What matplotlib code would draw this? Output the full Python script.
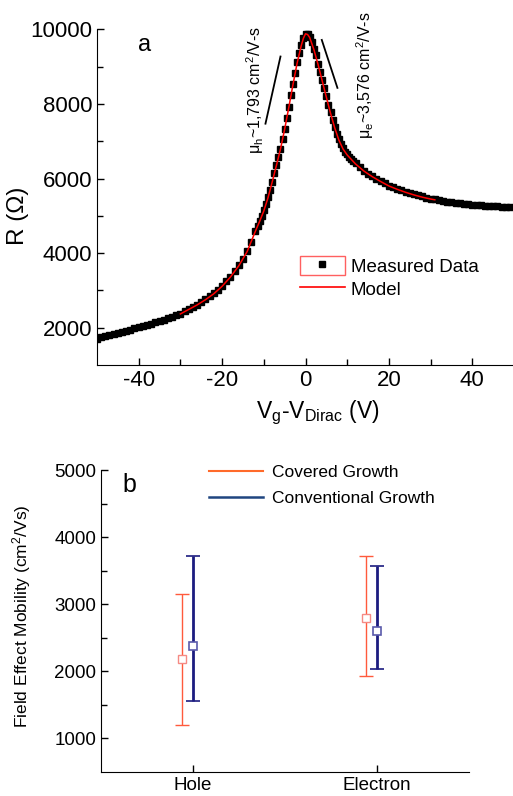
import numpy as np
import matplotlib
matplotlib.use('Agg')
import matplotlib.pyplot as plt
from matplotlib.lines import Line2D
from matplotlib.patches import Rectangle
from matplotlib.legend_handler import HandlerTuple

plt.rcParams['font.family'] = ['Liberation Sans', 'DejaVu Sans']
plt.rcParams['mathtext.fontset'] = 'custom'
plt.rcParams['mathtext.rm'] = 'Liberation Sans'
plt.rcParams['mathtext.it'] = 'Liberation Sans:italic'
plt.rcParams['axes.unicode_minus'] = False

# panel a: measured R vs Vg-VDirac
vg_left = [-50, -49, -48, -47, -46, -45, -44, -43, -42, -41, -40, -39, -38, -37, -36,
           -35, -34, -33, -32, -31, -30, -29, -28, -27, -26, -25, -24, -23, -22, -21,
           -20, -19, -18, -17, -16, -15, -14, -13]
r_left = [1710, 1740, 1770, 1800, 1830, 1860, 1890, 1920, 1950, 1980, 2010, 2050, 2080,
          2110, 2150, 2180, 2220, 2260, 2300, 2340, 2380, 2450, 2500, 2560, 2620, 2690,
          2760, 2840, 2920, 3020, 3120, 3240, 3370, 3510, 3670, 3850, 4060, 4310]
vg_mid = [-12, -11.5, -11, -10.5, -10, -9.5, -9, -8.5, -8, -7.5, -7, -6.5, -6, -5.5, -5,
          -4.5, -4, -3.5, -3, -2.5, -2, -1.5, -1, -0.5, 0, 0.5, 1, 1.5, 2, 2.5, 3, 3.5,
          4, 4.5, 5, 5.5, 6, 6.5, 7, 7.5, 8, 8.5, 9, 9.5, 10, 10.5, 11, 11.5, 12]
r_mid = [4600, 4730, 4860, 5000, 5150, 5320, 5500, 5700, 5920, 6140, 6360, 6580, 6800,
         7060, 7330, 7620, 7920, 8230, 8530, 8830, 9110, 9370, 9580, 9760, 9870, 9880,
         9800, 9650, 9480, 9300, 9080, 8850, 8640, 8420, 8200, 7980, 7770, 7570, 7380,
         7200, 7050, 6920, 6810, 6720, 6650, 6590, 6530, 6470, 6410]
vg_right = [13, 14, 15, 16, 17, 18, 19, 20, 21, 22, 23, 24, 25, 26, 27, 28, 29, 30, 31,
            32, 33, 34, 35, 36, 37, 38, 39, 40, 41, 42, 43, 44, 45, 46, 47, 48, 49]
r_right = [6300, 6210, 6130, 6060, 5990, 5930, 5870, 5810, 5760, 5720, 5680, 5640, 5610,
           5580, 5550, 5520, 5490, 5460, 5440, 5420, 5400, 5380, 5360, 5350, 5340, 5320,
           5310, 5300, 5290, 5280, 5270, 5265, 5260, 5250, 5245, 5240, 5235]

# model fit
vg_model = [-30, -28, -26, -24, -22, -20, -18, -16, -14, -12, -11, -10, -9, -8, -7, -6,
            -5, -4, -3, -2, -1, -0.5, 0, 0.5, 1, 2, 3, 4, 5, 6, 7, 8, 9, 10, 12, 14, 16,
            18, 20, 22, 24, 26, 28, 30, 31]
r_model = [2370, 2490, 2610, 2750, 2910, 3110, 3360, 3660, 4040, 4590, 4850, 5130, 5480,
           5900, 6340, 6790, 7320, 7910, 8520, 9100, 9570, 9760, 9880, 9860, 9780, 9460,
           9060, 8620, 8180, 7750, 7360, 7030, 6790, 6630, 6390, 6200, 6050, 5920, 5800,
           5710, 5630, 5560, 5500, 5450, 5430]

# slope guide lines (x0, y0, x1, y1)
hole_slope = [-9.6, 7470, -6.0, 9270]
elec_slope = [3.9, 9715, 7.65, 8430]

# panel b: mobility
groups = ['Hole', 'Electron']
covered_mean = [2180, 2790]
covered_lo = [1200, 1930]
covered_hi = [3150, 3720]
conv_mean = [2380, 2605]
conv_lo = [1560, 2030]
conv_hi = [3720, 3570]

fig = plt.figure(figsize=(5.13, 7.96), dpi=100)

# ---------- panel a ----------
ax = fig.add_axes([0.189, 0.5414, 0.809, 0.4218])
vg = vg_left + vg_mid + vg_right
r = r_left + r_mid + r_right
ax.plot(vg, r, ls='none', marker='s', ms=4.6, color='black', mec='black')
ax.plot(vg_model, r_model, color='red', lw=1.1)
ax.plot(hole_slope[0::2], hole_slope[1::2], color='black', lw=1.3)
ax.plot(elec_slope[0::2], elec_slope[1::2], color='black', lw=1.3)

ax.set_xlim(-50, 49.5)
ax.set_ylim(1000, 10000)
ax.set_xticks([-40, -20, 0, 20, 40])
ax.set_xticks([-30, -10, 10, 30], minor=True)
ax.set_yticks([2000, 4000, 6000, 8000, 10000])
ax.set_yticks([3000, 5000, 7000, 9000], minor=True)
ax.tick_params(which='both', direction='in', labelsize=16, width=1)
ax.tick_params(which='major', length=5)
ax.tick_params(which='minor', length=4)
for s in ['top', 'right']:
    ax.spines[s].set_visible(False)
ax.set_ylabel('R (Ω)', fontsize=17.5)
ax.yaxis.set_label_coords(-0.163, 0.445)
ax.set_xlabel(r'V$_{\mathrm{g}}$-V$_{\mathrm{Dirac}}$ (V)', fontsize=16.5)
ax.xaxis.set_label_coords(0.531, -0.1)

ax.text(-38.7, 9580, 'a', fontsize=17, ha='center', va='center')
ax.text(-12.1, 8380, r'μ$_{\mathrm{h}}$~1,793 cm$^{2}$/V-s', fontsize=11.5,
        rotation=90, ha='center', va='center')
ax.text(14.2, 8760, r'μ$_{\mathrm{e}}$~3,576 cm$^{2}$/V-s', fontsize=11.5,
        rotation=90, ha='center', va='center')

box = Rectangle((0, 0), 1, 1, facecolor='white', edgecolor='#ff6060', lw=1)
mk = Line2D([], [], ls='none', marker='s', ms=4, color='black')
ml = Line2D([], [], color='red', lw=1.2)
ax.legend([(box, mk), ml], ['Measured Data', 'Model'],
          handler_map={tuple: HandlerTuple(ndivide=1)},
          loc='upper left', bbox_to_anchor=(0.489, 0.325), frameon=False,
          fontsize=13.5, handlelength=2.4, handleheight=1.15, handletextpad=0.3,
          labelspacing=0.2, borderpad=0, borderaxespad=0, numpoints=1)

# ---------- panel b ----------
bx = fig.add_axes([0.1969, 0.0305, 0.7173, 0.379])
pos = np.arange(len(groups)) + 1
cov_err = [np.array(covered_mean) - np.array(covered_lo),
           np.array(covered_hi) - np.array(covered_mean)]
con_err = [np.array(conv_mean) - np.array(conv_lo),
           np.array(conv_hi) - np.array(conv_mean)]
bx.errorbar(pos - 0.06, covered_mean, yerr=cov_err, fmt='s', ms=6,
            mfc='white', mec='#f58a84', mew=1, ecolor='#ff5a3c', elinewidth=1,
            capsize=5, capthick=1)
bx.errorbar(pos, conv_mean, yerr=con_err, fmt='s', ms=6,
            mfc='white', mec='#5a5aaa', mew=1.2, ecolor='#1c1c80', elinewidth=2,
            capsize=5, capthick=1.3)

bx.set_xlim(0.5, 2.5)
bx.set_ylim(500, 5000)
bx.set_xticks(pos)
bx.set_xticklabels(groups)
bx.set_yticks([1000, 2000, 3000, 4000, 5000])
bx.set_yticks([1500, 2500, 3500, 4500], minor=True)
bx.tick_params(which='both', direction='in', labelsize=13.5, width=1)
bx.tick_params(which='major', length=5)
bx.tick_params(which='minor', length=4)
for s in ['top', 'right']:
    bx.spines[s].set_visible(False)
bx.set_ylabel(r'Field Effect Mobility (cm$^{2}$/Vs)', fontsize=12.5)
bx.yaxis.set_label_coords(-0.185, 0.515)
bx.text(0.076, 0.95, 'b', fontsize=18, ha='center', va='center',
        transform=bx.transAxes)

h1 = Line2D([], [], color='#ff6a2a', lw=1.5)
h2 = Line2D([], [], color='#1f4580', lw=1.8)
bx.legend([h1, h2], ['Covered Growth', 'Conventional Growth'], loc='upper left',
          bbox_to_anchor=(0.293, 1.018), frameon=False, fontsize=12.5,
          handlelength=3.1, handletextpad=0.55, labelspacing=0.65,
          borderpad=0, borderaxespad=0)

fig.savefig('out.png', dpi=100)
